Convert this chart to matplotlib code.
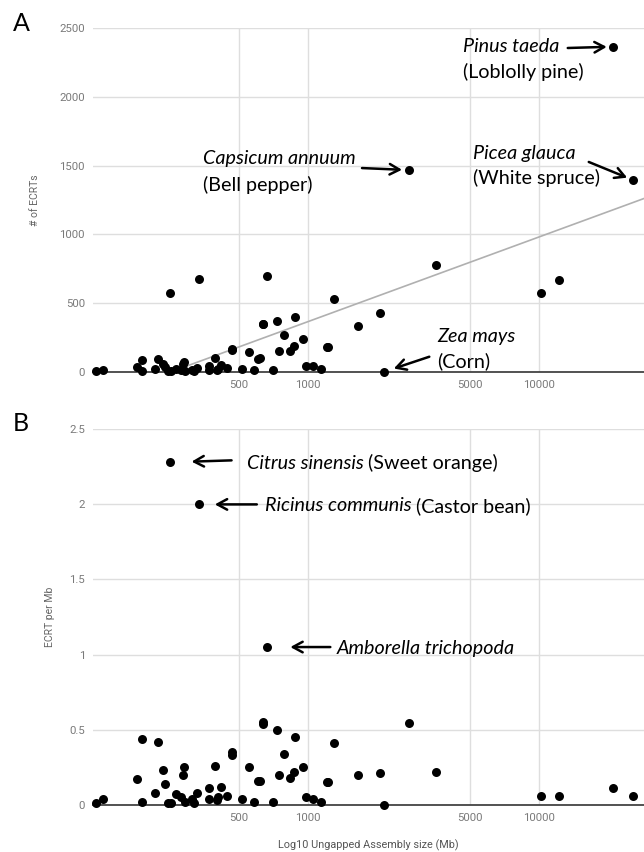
import matplotlib.pyplot as plt
import numpy as np

# genome assembly size (Mb), ECRT counts, ECRT per Mb
size_mb = [121, 129, 182, 191, 191, 218, 224, 236, 239, 246, 251, 254, 268, 281, 287,
           290, 293, 314, 321, 329, 336, 372, 372, 395, 402, 407, 420, 446, 469, 469,
           518, 556, 584, 604, 618, 635, 638, 665, 706, 735, 747, 788, 834, 870, 874,
           952, 978, 1052, 1132, 1202, 1222, 1297, 1647, 2045, 2134, 2730, 3563, 10210,
           12180, 20800, 25390]
ecrt = [2, 10, 32, 85, 5, 18, 95, 55, 34, 3, 575, 3, 19, 14, 57,
        72, 6, 13, 3, 26, 672, 41, 15, 103, 12, 20, 50, 28, 164, 155,
        22, 140, 12, 95, 97, 349, 345, 698, 15, 368, 149, 265, 148, 189, 396,
        238, 45, 41, 23, 182, 178, 532, 331, 425, 0, 1468, 777, 571,
        665, 2366, 1396]
ecrt_per_mb = [0.01, 0.04, 0.17, 0.44, 0.02, 0.08, 0.42, 0.23, 0.14, 0.01, 2.28, 0.01, 0.07, 0.05, 0.20,
               0.25, 0.02, 0.04, 0.01, 0.08, 2.00, 0.11, 0.04, 0.26, 0.03, 0.05, 0.12, 0.06, 0.35, 0.33,
               0.04, 0.25, 0.02, 0.16, 0.16, 0.55, 0.54, 1.05, 0.02, 0.50, 0.20, 0.34, 0.18, 0.22, 0.45,
               0.25, 0.05, 0.04, 0.02, 0.15, 0.15, 0.41, 0.20, 0.21, 0.00, 0.545, 0.22, 0.056,
               0.055, 0.114, 0.055]

x_ticks = [500, 1000, 5000, 10000]
a_yticks = [0, 500, 1000, 1500, 2000, 2500]
b_yticks = [0, 0.5, 1, 1.5, 2, 2.5]
b_ylabels = ['0', '0.5', '1', '1.5', '2', '2.5']

tick_col = '#7a7a7a'
grid_col = '#dedede'
note_font = 'Lato'
note_size = 14.2
PX = 0.72  # points per pixel at dpi 100

fig = plt.figure(figsize=(6.44, 8.52), dpi=100)
axA = fig.add_axes([0.1449, 0.5637, 0.8551, 0.4031])
axB = fig.add_axes([0.1449, 0.0555, 0.8551, 0.4406])


def style(ax, yticks, ylabels):
    ax.set_xscale('log')
    ax.set_xlim(117.4, 28400)
    ax.set_ylim(yticks[0], yticks[-1])
    ax.set_xticks(x_ticks)
    ax.set_xticklabels([str(t) for t in x_ticks])
    ax.minorticks_off()
    ax.set_yticks(yticks)
    ax.set_yticklabels(ylabels)
    ax.tick_params(length=0, labelsize=8.2, labelcolor=tick_col, pad=6)
    for lab in ax.get_xticklabels() + ax.get_yticklabels():
        lab.set_fontfamily('Roboto')
    ax.grid(True, color=grid_col, lw=1)
    ax.set_axisbelow(True)
    for s in ['top', 'right', 'left']:
        ax.spines[s].set_visible(False)
    ax.spines['bottom'].set_color('#444444')
    ax.spines['bottom'].set_linewidth(1.3)
    ax.spines['bottom'].set_zorder(2)


style(axA, a_yticks, [str(t) for t in a_yticks])
style(axB, b_yticks, b_ylabels)

# logarithmic trend line for panel A
coef = np.polyfit(np.log10(size_mb), ecrt, 1)
tx = np.logspace(np.log10(min(size_mb)), np.log10(28400), 200)
axA.plot(tx, coef[0] * np.log10(tx) + coef[1], color='#b0b0b0', lw=1.2, zorder=2)

axA.scatter(size_mb, ecrt, s=42, color='black', zorder=3, clip_on=False, lw=0)
axB.scatter(size_mb, ecrt_per_mb, s=42, color='black', zorder=3, clip_on=False, lw=0)

axA.set_ylabel('# of ECRTs', fontsize=7.5, color='#666666', family='Roboto', labelpad=14)
axB.set_ylabel('ECRT per Mb', fontsize=7.5, color='#666666', family='Roboto', labelpad=10)
axB.set_xlabel('Log10 Ungapped Assembly size (Mb)', fontsize=7.8, color='#555555',
               family='Roboto', labelpad=12)

fig.text(0.020, 0.973, 'A', fontsize=18, family=note_font, va='center')
fig.text(0.020, 0.5035, 'B', fontsize=18, family=note_font, va='center')

renderer = fig.canvas.get_renderer()


def note(ax, pt, lines, arrow_from, shrink):
    # lines: list of (dx, dy, [(text, italic), ...]) pixel offsets from the point
    for dx, dy, parts in lines:
        x_off = dx * PX
        for txt, it in parts:
            t = ax.annotate(txt, xy=pt, xytext=(x_off, dy * PX), textcoords='offset points',
                            fontsize=note_size, family=note_font,
                            style='italic' if it else 'normal',
                            va='center_baseline', ha='left')
            x_off += t.get_window_extent(renderer).width * PX
    ax.annotate('', xy=pt, xytext=(arrow_from[0] * PX, arrow_from[1] * PX),
                textcoords='offset points',
                arrowprops=dict(arrowstyle='->,head_length=0.7,head_width=0.38',
                                color='black', lw=1.8, shrinkA=0, shrinkB=shrink * PX))


note(axA, (20800, 2366), [(-150, 1.7, [('Pinus taeda', True)]),
                          (-150, -23.3, [('(Loblolly pine)', False)])], (-45, -1.3), 6)
note(axA, (2730, 1468), [(-206, 13, [('Capsicum annuum', True)]),
                         (-206, -13, [('(Bell pepper)', False)])], (-47, 2), 7)
note(axA, (25390, 1396), [(-160, 28, [('Picea glauca', True)]),
                          (-160, 3, [('(White spruce)', False)])], (-44, 18), 6)
note(axA, (2134, 0), [(53, 36.7, [('Zea mays', True)]),
                      (53, 11.7, [('(Corn)', False)])], (45, 15), 10)
note(axB, (251, 2.28), [(77, 0.7, [('Citrus sinensis', True), (' (Sweet orange)', False)])],
     (62, 2), 22)
note(axB, (336, 2.00), [(66, 0, [('Ricinus communis', True), (' (Castor bean)', False)])],
     (58, 0), 16)
note(axB, (665, 1.05), [(69, 0, [('Amborella trichopoda', True)])], (63, 0), 23)

fig.savefig('out.png', dpi=100)
